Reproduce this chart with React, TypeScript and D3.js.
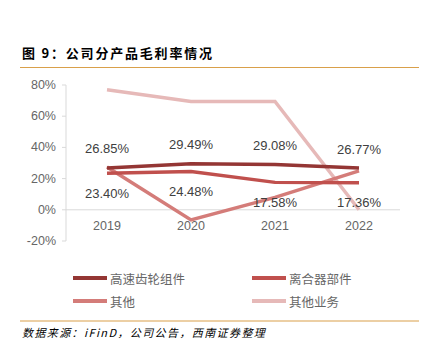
import { useRef, useEffect } from 'react';
import * as d3 from 'd3';

const years = ['2019', '2020', '2021', '2022'];
const gearParts = [26.85, 29.49, 29.08, 26.77];
const clutchParts = [23.4, 24.48, 17.58, 17.36];
const others = [27.5, -6.5, 8, 25];
const otherBusiness = [77, 69.5, 69.5, 0];
const yTicks = [-20, 0, 20, 40, 60, 80];

const seriesNames = ['高速齿轮组件', '离合器部件', '其他', '其他业务'];
const seriesColors = ['#943634', '#c0504d', '#d47c79', '#e6b9b8'];

export default function App() {
  const svgRef = useRef<SVGSVGElement>(null);

  useEffect(() => {
    if (!svgRef.current) return;
    const svg = d3.select(svgRef.current);
    svg.selectAll('*').remove();

    const font = 'Liberation Sans, Arial, sans-serif';
    const cjk = '"Noto Sans CJK SC", sans-serif';

    // Title
    svg.append('text')
      .attr('x', 22)
      .attr('y', 58)
      .attr('font-family', cjk)
      .attr('font-weight', 'bold')
      .attr('font-size', '13px')
      .attr('letter-spacing', '1.8px')
      .attr('fill', '#000')
      .text('图 9：公司分产品毛利率情况');

    svg.append('line')
      .attr('x1', 20).attr('x2', 419)
      .attr('y1', 67.5).attr('y2', 67.5)
      .attr('stroke', '#d9a04a')
      .attr('stroke-width', 1.2);

    const x = d3.scalePoint().domain(years).range([107, 359]);
    const y = d3.scaleLinear().domain([-20, 80]).range([241, 85]);

    const g = svg.append('g');

    // Y axis
    g.append('line')
      .attr('x1', 66).attr('x2', 66)
      .attr('y1', y(80)).attr('y2', y(-20))
      .attr('stroke', '#d9d9d9');
    g.selectAll('.ytick')
      .data(yTicks)
      .enter()
      .append('line')
      .attr('x1', 62).attr('x2', 66)
      .attr('y1', (d) => y(d)).attr('y2', (d) => y(d))
      .attr('stroke', '#d9d9d9');
    g.selectAll('.ylabel')
      .data(yTicks)
      .enter()
      .append('text')
      .attr('x', 56)
      .attr('y', (d) => y(d))
      .attr('text-anchor', 'end')
      .attr('dominant-baseline', 'central')
      .attr('font-family', font)
      .attr('font-size', '12.5px')
      .attr('fill', '#666')
      .text((d) => `${d}%`);

    // Zero line
    g.append('line')
      .attr('x1', 66).attr('x2', 400)
      .attr('y1', y(0)).attr('y2', y(0))
      .attr('stroke', '#d9d9d9');

    // X labels
    g.selectAll('.xlabel')
      .data(years)
      .enter()
      .append('text')
      .attr('x', (d) => x(d)!)
      .attr('y', 226)
      .attr('text-anchor', 'middle')
      .attr('dominant-baseline', 'central')
      .attr('font-family', font)
      .attr('font-size', '12.5px')
      .attr('fill', '#666')
      .text((d) => d);

    const allSeries = [gearParts, clutchParts, others, otherBusiness];
    const line = d3.line<number>()
      .x((_, i) => x(years[i])!)
      .y((d) => y(d));

    // draw back to front
    [3, 2, 1, 0].forEach((k) => {
      g.append('path')
        .attr('d', line(allSeries[k]))
        .attr('fill', 'none')
        .attr('stroke', seriesColors[k])
        .attr('stroke-width', 3.5);
    });

    // Data labels
    const labelStyle = (sel: d3.Selection<SVGTextElement, number, SVGGElement, unknown>) =>
      sel.attr('text-anchor', 'middle')
        .attr('dominant-baseline', 'central')
        .attr('font-family', font)
        .attr('font-size', '13px')
        .attr('fill', '#404040');

    g.selectAll('.lblA')
      .data(gearParts)
      .enter()
      .append('text')
      .attr('x', (_, i) => x(years[i])!)
      .attr('y', (d) => y(d) - 19)
      .call(labelStyle)
      .text((d) => `${d.toFixed(2)}%`);

    g.selectAll('.lblB')
      .data(clutchParts)
      .enter()
      .append('text')
      .attr('x', (_, i) => x(years[i])!)
      .attr('y', (d) => y(d) + 20)
      .call(labelStyle)
      .text((d) => `${d.toFixed(2)}%`);

    // Legend
    const legendPos = [
      { lx: 73, ly: 278 },
      { lx: 252, ly: 278 },
      { lx: 73, ly: 301 },
      { lx: 252, ly: 301 },
    ];
    seriesNames.forEach((name, k) => {
      const p = legendPos[k];
      svg.append('line')
        .attr('x1', p.lx).attr('x2', p.lx + 34)
        .attr('y1', p.ly).attr('y2', p.ly)
        .attr('stroke', seriesColors[k])
        .attr('stroke-width', 4);
      svg.append('text')
        .attr('x', p.lx + 37)
        .attr('y', p.ly)
        .attr('dominant-baseline', 'central')
        .attr('font-family', cjk)
        .attr('font-size', '12.5px')
        .attr('fill', '#666')
        .text(name);
    });

    svg.append('line')
      .attr('x1', 20).attr('x2', 419)
      .attr('y1', 321).attr('y2', 321)
      .attr('stroke', '#d9a04a')
      .attr('stroke-width', 1.2);

    svg.append('text')
      .attr('x', 22)
      .attr('y', 337)
      .attr('font-family', cjk)
      .attr('font-style', 'italic')
      .attr('font-size', '11px')
      .attr('letter-spacing', '1.4px')
      .attr('fill', '#000')
      .text('数据来源：iFinD，公司公告，西南证券整理');
  }, []);

  return (
    <div style={{ position: 'absolute', left: 0, top: 0 }}>
      <svg ref={svgRef} width={429} height={353} style={{ display: 'block', background: '#fff' }} />
    </div>
  );
}
